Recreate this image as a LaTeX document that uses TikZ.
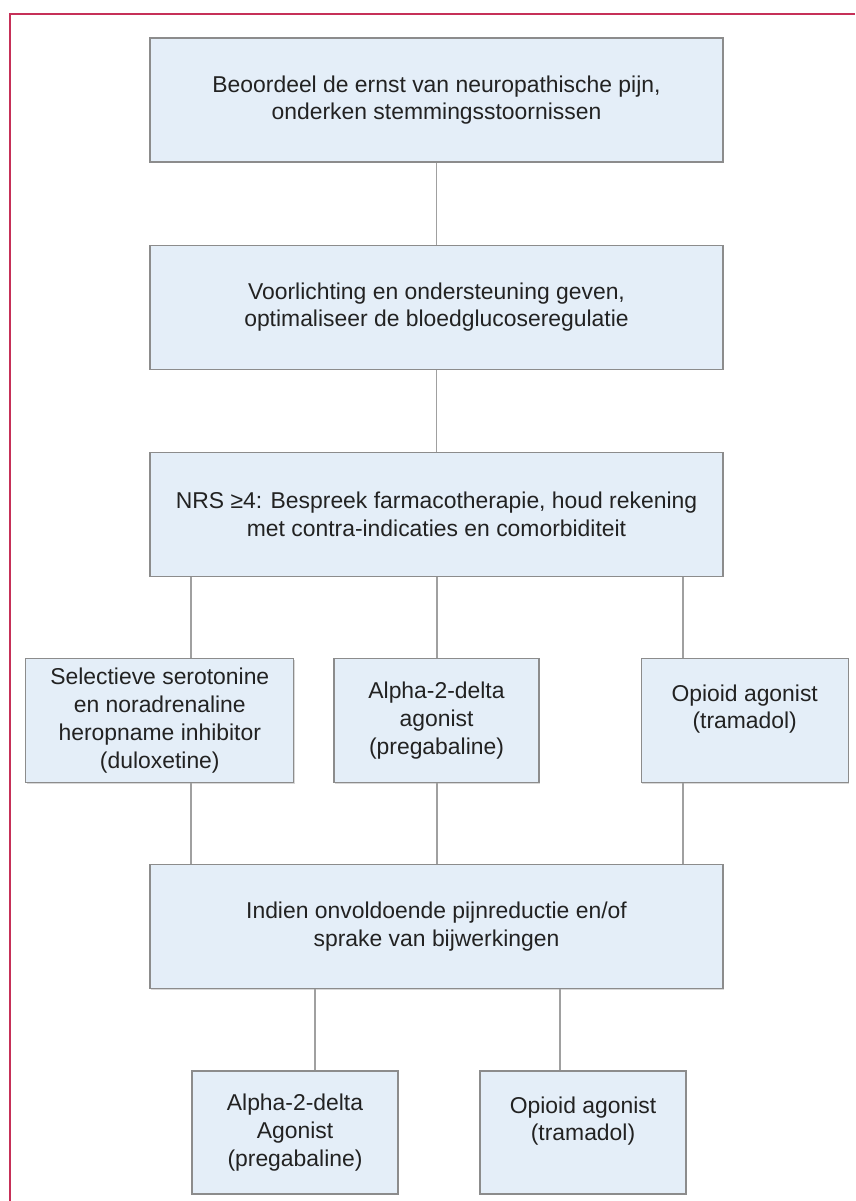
\documentclass[tikz,border=0pt]{standalone}
\usepackage{fontspec}
\setmainfont{Liberation Sans}
\usetikzlibrary{positioning,shadows}
\definecolor{boxblue}{RGB}{228,238,248}
\definecolor{boxgray}{RGB}{140,140,140}
\definecolor{linkgray}{RGB}{160,160,160}
\definecolor{framered}{RGB}{198,48,88}
\definecolor{txtgray}{RGB}{34,34,34}
\newcommand{\boxfont}{\fontsize{22.9}{27.7}\selectfont}
\tikzset{
	stage/.style={
		rectangle,
		draw=boxgray,
		line width=1.2pt,
		fill=boxblue,
		drop shadow={shadow xshift=1pt,shadow yshift=-1pt,fill=black!30},
		text=txtgray,
		align=center,
		inner sep=0pt,
		minimum width=573pt,
		minimum height=124pt,
		font=\boxfont,
	},
	choice/.style={
		stage,
		minimum width=206pt,
	},
	link/.style={
		draw=linkgray,
		line width=1.3pt,
	},
	frame/.style={
		draw=framered,
		line width=1.5pt,
	},
}

\begin{document}
\begin{tikzpicture}[x=1pt,y=-1pt]
	\useasboundingbox (0,0) rectangle (855,1201);
	\draw[frame] (855,14) -- (10,14) -- (10,1201);

	\node [stage] (assess) at (436.5,100) {Beoordeel de ernst van neuropathische pijn,\\onderken stemmingsstoornissen};
	\node [
	  stage,
	  below=82pt of assess
	] (inform) {Voorlichting en ondersteuning geven,\\optimaliseer de bloedglucoseregulatie};
	\node [
	  stage,
	  below=82pt of inform
	] (nrs) {NRS ≥4: Bespreek farmacotherapie, houd rekening\\met contra-indicaties en comorbiditeit};

	% eerste keuze
	\node [
	  choice,
	  minimum width=205pt,
	  below=81pt of nrs
	] (alpha1) {Alpha-2-delta\\agonist\\(pregabaline)};
	\node [
	  choice,
	  minimum width=268pt,
	  left=39pt of alpha1
	] (snri) {Selectieve serotonine\\en noradrenaline\\heropname inhibitor\\(duloxetine)};
	\node [
	  choice,
	  minimum width=207pt,
	  right=101pt of alpha1
	] (opioid1) {Opioid agonist\\(tramadol)\\\mbox{}};

	\node [
	  stage,
	  below=81pt of alpha1
	] (fail) {Indien onvoldoende pijnreductie en/of\\sprake van bijwerkingen};

	% tweede keuze
	\node [
	  choice,
	  minimum height=123pt,
	  below=81pt of fail,
	  xshift=-141.5pt
	] (alpha2) {Alpha-2-delta\\Agonist\\(pregabaline)};
	\node [
	  choice,
	  minimum height=123pt,
	  below=81pt of fail,
	  xshift=146.5pt
	] (opioid2) {Opioid agonist\\(tramadol)\\\mbox{}};

	\coordinate (xl) at (191,0);
	\coordinate (xm) at (437,0);
	\coordinate (xr) at (683,0);
	\coordinate (xa) at (315,0);
	\coordinate (xb) at (560,0);

	\draw[link] (assess) -- (inform);
	\draw[link] (inform) -- (nrs);
	\draw[link] (nrs.south -| xl) -- (snri.north -| xl);
	\draw[link] (nrs.south -| xm) -- (alpha1.north -| xm);
	\draw[link] (nrs.south -| xr) -- (opioid1.north -| xr);
	\draw[link] (snri.south -| xl) -- (fail.north -| xl);
	\draw[link] (alpha1.south -| xm) -- (fail.north -| xm);
	\draw[link] (opioid1.south -| xr) -- (fail.north -| xr);
	\draw[link] (fail.south -| xa) -- (alpha2.north -| xa);
	\draw[link] (fail.south -| xb) -- (opioid2.north -| xb);
\end{tikzpicture}
\end{document}
